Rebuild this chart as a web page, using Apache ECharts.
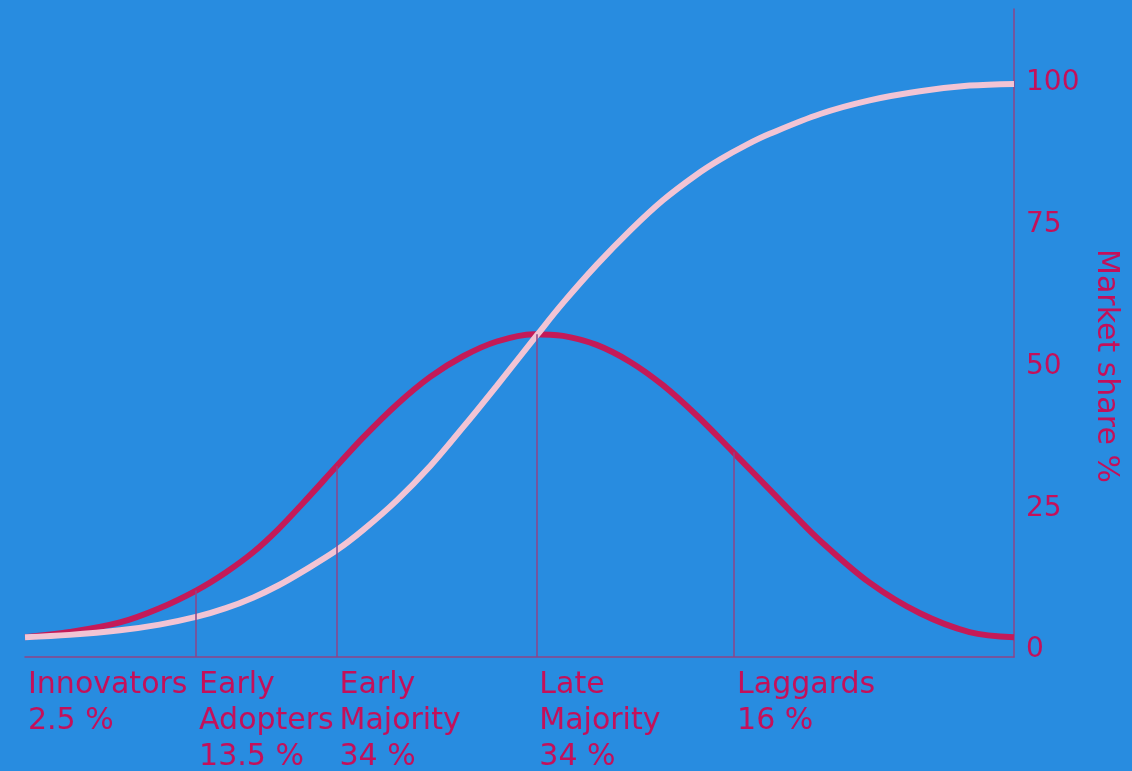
<!DOCTYPE html>
<html>
<head>
<meta charset="utf-8">
<script src="https://cdn.jsdelivr.net/npm/echarts@6/dist/echarts.min.js"></script>
<style>
html,body{margin:0;padding:0;background:#288ce0;}
#chart{width:1132px;height:771px;}
</style>
</head>
<body>
<div id="chart"></div>
<script>
// ---- data ----
const bellX = [0, 4.5, 9.6, 13.6, 17.4, 20.3, 23.1, 25.6, 28.1, 31.5, 34.2, 37.6, 41.0, 44.3, 47.7, 51.4, 54.4, 57.8, 61.2, 64.5, 67.9, 71.6, 75.3, 77.8, 80.4, 85.4, 90.5, 95.5, 100];
const bellY = [2.3, 3.2, 4.9, 7.4, 10.6, 13.7, 17.3, 21.3, 25.9, 32.4, 37.5, 43.3, 48.2, 51.8, 54.4, 55.7, 55.4, 53.8, 50.8, 46.7, 41.4, 34.9, 28.3, 23.8, 19.3, 11.9, 6.5, 3.2, 2.3];
const cumX = [0, 4.5, 9.6, 13.6, 17.4, 20.3, 23.1, 25.6, 28.1, 31.5, 34.2, 37.6, 41.0, 44.3, 47.7, 51.8, 54.4, 57.8, 61.2, 64.5, 67.9, 70.3, 73.0, 75.3, 80.4, 85.4, 90.5, 95.5, 100];
const cumY = [2.3, 2.7, 3.5, 4.5, 5.9, 7.4, 9.3, 11.4, 13.9, 17.6, 21.2, 26.4, 32.5, 39.3, 46.6, 55.6, 61.2, 67.9, 74.0, 79.3, 83.8, 86.5, 89.1, 91.0, 94.5, 96.9, 98.5, 99.5, 99.8];
const boundaryX = [17.3, 31.5, 51.7, 71.7];
const boundaryTop = [10.5, 32.4, 55.7, 34.9];
const groupStart = [0, 17.3, 31.5, 51.7, 71.7];
const groupLabels = ['Innovators\n2.5 %', 'Early\nAdopters\n13.5 %', 'Early\nMajority\n34 %', 'Late\nMajority\n34 %', 'Laggards\n16 %'];
const yTicks = [0, 25, 50, 75, 100];

const crimson = '#c41a58';
const pink = '#f2c4d4';
const textColor = '#c4105a';
const axisColor = '#8c4488';
const FONT = 'DejaVu Sans';

const Y_MIN = -1.2, Y_MAX = 113;

const chart = echarts.init(document.getElementById('chart'));
chart.setOption({
  animation: false,
  backgroundColor: '#288ce0',
  grid: {left: 25, right: 118, top: 9, bottom: 114, containLabel: false, outerBoundsMode: 'none'},
  xAxis: {
    type: 'value', min: 0, max: 100,
    axisLine: {show: true, onZero: false, lineStyle: {color: axisColor, width: 1.5}},
    axisTick: {show: false},
    splitLine: {show: false},
    axisLabel: {
      customValues: groupStart,
      formatter: function (v) {
        const i = groupStart.indexOf(v);
        return i >= 0 ? groupLabels[i] : '';
      },
      align: 'left', verticalAlign: 'top',
      margin: 10,
      padding: [0, 0, 0, 3],
      color: textColor, fontFamily: FONT, fontSize: 30, lineHeight: 36,
      hideOverlap: false
    }
  },
  yAxis: {
    type: 'value', position: 'right', min: Y_MIN, max: Y_MAX,
    axisLine: {show: true, onZero: false, lineStyle: {color: axisColor, width: 1.5}},
    axisTick: {show: false},
    splitLine: {show: false},
    axisLabel: {customValues: yTicks, color: textColor, fontFamily: FONT, fontSize: 28, margin: 12},
    name: 'Market share %',
    nameLocation: 'middle',
    nameRotate: -90,
    nameGap: 54,
    nameTextStyle: {color: textColor, fontFamily: FONT, fontSize: 30, padding: [0, 0, 0, 66]}
  },
  series: [
    {
      type: 'line', z: 1, silent: true, symbol: 'none',
      data: [],
      markLine: {
        silent: true, symbol: 'none', label: {show: false},
        lineStyle: {color: axisColor, width: 1.5, type: 'solid'},
        data: boundaryX.map((x, i) => [{coord: [x, Y_MIN]}, {coord: [x, boundaryTop[i]]}])
      }
    },
    {
      type: 'line', z: 2, symbol: 'none', smooth: 0.35,
      lineStyle: {color: crimson, width: 6},
      data: bellX.map((x, i) => [x, bellY[i]])
    },
    {
      type: 'line', z: 3, symbol: 'none', smooth: 0.35,
      lineStyle: {color: pink, width: 6},
      data: cumX.map((x, i) => [x, cumY[i]])
    }
  ]
});
</script>
</body>
</html>
